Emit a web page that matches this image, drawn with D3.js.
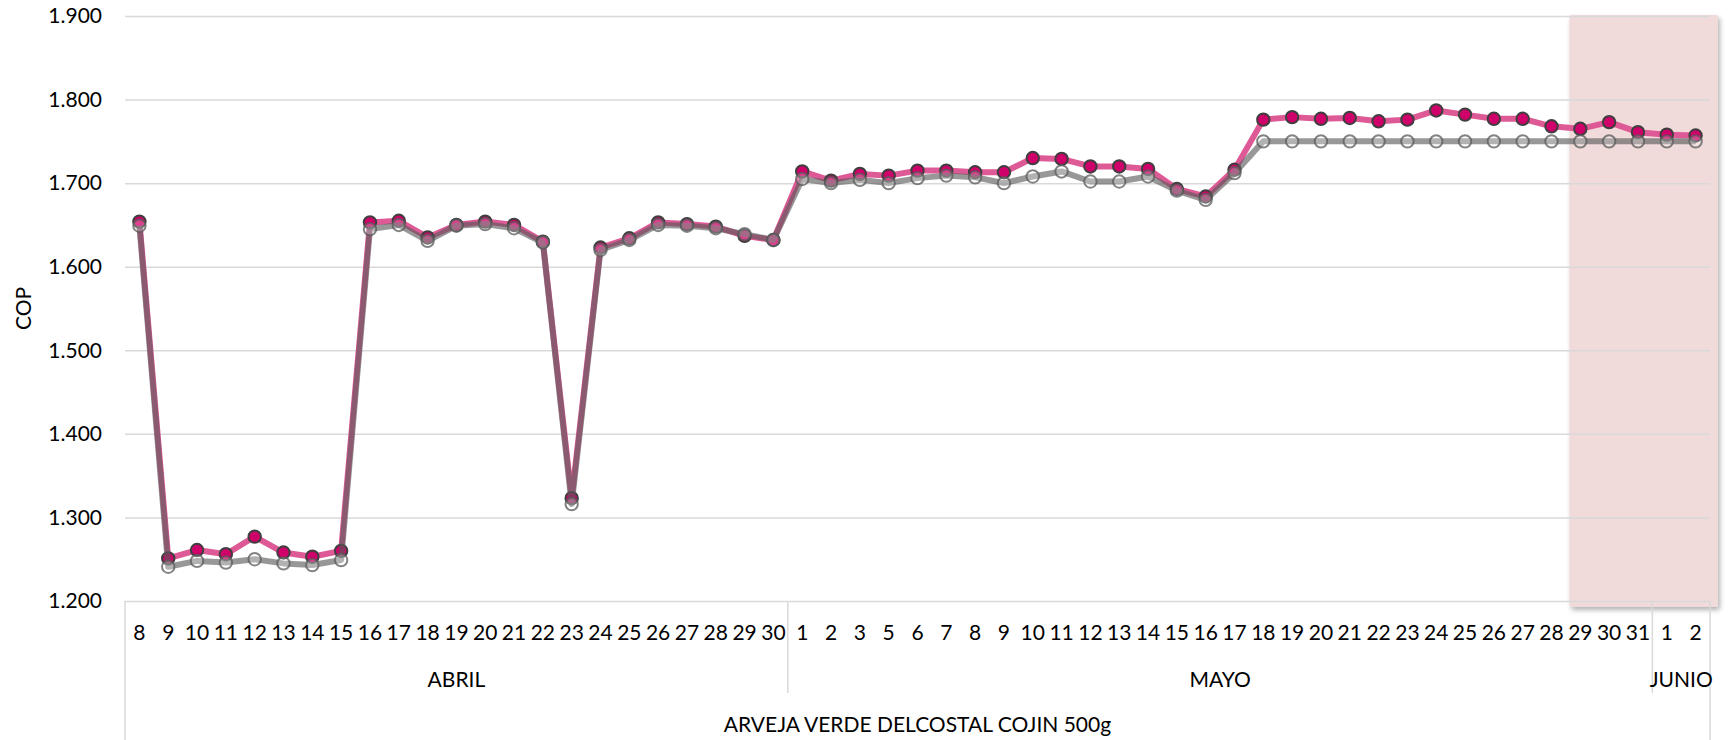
<!DOCTYPE html>
<html>
<head>
<meta charset="utf-8">
<script src="https://cdn.jsdelivr.net/npm/d3@7"></script>
<style>
  html, body { margin: 0; padding: 0; background: #fff; }
  svg { display: block; font-family: Lato, "Open Sans", "Liberation Sans", sans-serif; }
</style>
</head>
<body>
<svg id="chart" width="1731" height="740"></svg>
<script>
// ---------- DATA ----------
const monthNames = ["ABRIL", "MAYO", "JUNIO"];
const aprilDays = [8, 9, 10, 11, 12, 13, 14, 15, 16, 17, 18, 19, 20, 21, 22, 23, 24, 25, 26, 27, 28, 29, 30];
const mayDays = [1, 2, 3, 5, 6, 7, 8, 9, 10, 11, 12, 13, 14, 15, 16, 17, 18, 19, 20, 21, 22, 23, 24, 25, 26, 27, 28, 29, 30, 31];
const juneDays = [1, 2];

// pink series (filled markers)
const seriesPink = [
  1654, 1251, 1261, 1256, 1277, 1258, 1253, 1260, 1653, 1655, 1635, 1650, 1654, 1650, 1630, 1323, 1623, 1634, 1653, 1651, 1648, 1637, 1632,
  1714, 1703, 1711, 1709, 1715, 1715, 1713, 1713, 1730, 1729, 1720, 1720, 1717, 1693, 1684, 1716,
  1776, 1779, 1777, 1778, 1774, 1776, 1787, 1782, 1777, 1777, 1768, 1765, 1773, 1761,
  1758, 1757
];
// gray series (hollow markers)
const seriesGray = [
  1649, 1241, 1248, 1246, 1250, 1245, 1243, 1249, 1645, 1650, 1631, 1649, 1651, 1646, 1629, 1316, 1620, 1632, 1650, 1649, 1646, 1639, 1632,
  1705, 1700, 1704, 1700, 1706, 1709, 1707, 1700, 1708, 1714, 1702, 1702, 1708, 1691, 1680, 1712,
  1750, 1750, 1750, 1750, 1750, 1750, 1750, 1750, 1750, 1750, 1750, 1750, 1750, 1750,
  1750, 1750
];

const yTicks = [1200, 1300, 1400, 1500, 1600, 1700, 1800, 1900];
const yDomain = [1200, 1900];
const yLabel = "COP";
const axisTitle = "ARVEJA VERDE DELCOSTAL COJIN 500g";
const highlightStart = "MAYO-29";

// ---------- LAYOUT ----------
const W = 1731, H = 740;
const plot = { left: 125, right: 1710, top: 16, bottom: 601 };
const FONT = 21;

const monthDays = [aprilDays, mayDays, juneDays];
const cats = [];
monthNames.forEach((m, i) => monthDays[i].forEach(d => cats.push({ key: m + "-" + d, day: d, month: m })));

const x = d3.scaleBand().domain(cats.map(c => c.key)).range([plot.left, plot.right]).padding(0);
const bw = x.bandwidth();
const cx = k => x(k) + bw / 2;
const y = d3.scaleLinear().domain(yDomain).range([plot.bottom, plot.top]);

const locale = d3.formatLocale({ decimal: ",", thousands: ".", grouping: [3], currency: ["$", ""] });
const fmt = locale.format(",.0f");

const svg = d3.select("#chart");
const defs = svg.append("defs");
const f = defs.append("filter").attr("id", "shadow").attr("x", "-20%").attr("y", "-5%").attr("width", "140%").attr("height", "115%");
f.append("feDropShadow").attr("dx", 2).attr("dy", 3).attr("stdDeviation", 2.5)
  .attr("flood-color", "#000").attr("flood-opacity", 0.3);

// highlight band
const hx0 = x(highlightStart) + bw * 0.12;
svg.append("rect")
  .attr("x", hx0)
  .attr("y", y(yDomain[1]) - 1)
  .attr("width", plot.right + 8 - hx0)
  .attr("height", y(yDomain[0]) + 6 - (y(yDomain[1]) - 1))
  .attr("rx", 2)
  .attr("fill", "#F0DADA")
  .attr("filter", "url(#shadow)");

// y axis with gridlines
const yAxis = svg.append("g")
  .attr("transform", `translate(${plot.left},0)`)
  .call(d3.axisLeft(y).tickValues(yTicks).tickSize(-(plot.right - plot.left)).tickPadding(23).tickFormat(fmt));
yAxis.select(".domain").remove();
yAxis.selectAll(".tick line").attr("stroke", "#D9D9D9").attr("stroke-width", 1.5);
yAxis.selectAll(".tick text").attr("font-size", FONT).attr("fill", "#000")
  .attr("font-family", "Lato, 'Open Sans', sans-serif");

// y label
svg.append("text")
  .attr("transform", `translate(31,${(plot.top + plot.bottom) / 2}) rotate(-90)`)
  .attr("text-anchor", "middle")
  .attr("font-size", FONT)
  .attr("fill", "#000")
  .text(yLabel);

// category axis separators
const sep = svg.append("g").attr("stroke", "#D9D9D9").attr("stroke-width", 1.5);
sep.append("line").attr("x1", plot.left).attr("x2", plot.left).attr("y1", plot.bottom).attr("y2", H);
sep.append("line").attr("x1", plot.right).attr("x2", plot.right).attr("y1", plot.bottom).attr("y2", H);
monthNames.slice(1).forEach((m, i) => {
  const k = m + "-" + monthDays[i + 1][0];
  sep.append("line").attr("x1", x(k)).attr("x2", x(k)).attr("y1", plot.bottom).attr("y2", 693);
});

// day labels
svg.append("g").selectAll("text").data(cats).join("text")
  .attr("x", d => cx(d.key))
  .attr("y", 640)
  .attr("text-anchor", "middle")
  .attr("font-size", FONT)
  .attr("fill", "#000")
  .text(d => d.day);

// month labels
monthNames.forEach((m, i) => {
  const first = m + "-" + monthDays[i][0];
  const last = m + "-" + monthDays[i][monthDays[i].length - 1];
  const mid = (x(first) + x(last) + bw) / 2;
  svg.append("text")
    .attr("x", mid).attr("y", 687)
    .attr("text-anchor", "middle")
    .attr("font-size", FONT)
    .attr("fill", "#000")
    .text(m);
});

// axis title
svg.append("text")
  .attr("x", (plot.left + plot.right) / 2).attr("y", 732)
  .attr("text-anchor", "middle")
  .attr("font-size", FONT)
  .attr("fill", "#000")
  .text(axisTitle);

// series
const line = d3.line().x((d, i) => cx(cats[i].key)).y(d => y(d));

// pink
svg.append("path").datum(seriesPink)
  .attr("d", line)
  .attr("fill", "none")
  .attr("stroke", "#DE5A96")
  .attr("stroke-width", 6)
  .attr("stroke-linejoin", "round");
svg.append("g").selectAll("circle").data(seriesPink).join("circle")
  .attr("cx", (d, i) => cx(cats[i].key))
  .attr("cy", d => y(d))
  .attr("r", 6.2)
  .attr("fill", "#D0006A")
  .attr("stroke", "#3F3F3F")
  .attr("stroke-width", 2);

// gray
svg.append("path").datum(seriesGray)
  .attr("d", line)
  .attr("fill", "none")
  .attr("stroke", "#595959")
  .attr("stroke-opacity", 0.62)
  .attr("stroke-width", 6)
  .attr("stroke-linejoin", "round");
svg.append("g").selectAll("circle").data(seriesGray).join("circle")
  .attr("cx", (d, i) => cx(cats[i].key))
  .attr("cy", d => y(d))
  .attr("r", 6.2)
  .attr("fill", "#fff")
  .attr("fill-opacity", 0.25)
  .attr("stroke", "#595959")
  .attr("stroke-opacity", 0.75)
  .attr("stroke-width", 2);
</script>
</body>
</html>
